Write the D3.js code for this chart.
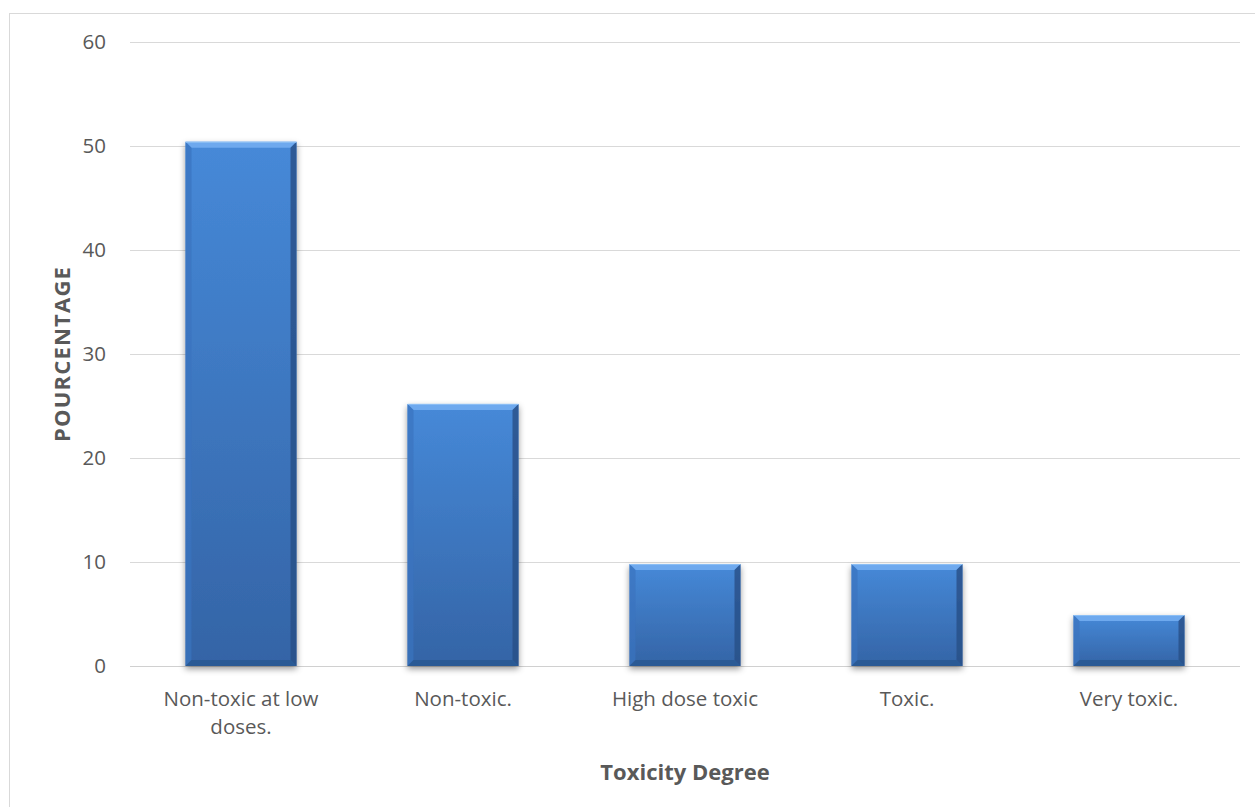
<!DOCTYPE html>
<html>
<head>
<meta charset="utf-8">
<script src="https://cdn.jsdelivr.net/npm/d3@7"></script>
<style>
  html, body { margin: 0; padding: 0; background: #fff; }
  svg { display: block; }
  text { font-family: "Open Sans", "Liberation Sans", sans-serif; }
</style>
</head>
<body>
<svg id="chart" width="1255" height="807"></svg>
<script>
// Share of compounds per toxicity class (%)
const categories = ["Non-toxic at low doses.", "Non-toxic.", "High dose toxic", "Toxic.", "Very toxic."];
const categoryLines = [["Non-toxic at low", "doses."], ["Non-toxic."], ["High dose toxic"], ["Toxic."], ["Very toxic."]];
const percentages = [50.4, 25.2, 9.8, 9.8, 4.9];
const yTicks = [0, 10, 20, 30, 40, 50, 60];
const xTitle = "Toxicity Degree";
const yTitle = "POURCENTAGE";

const svg = d3.select("#chart");
const W = 1255, H = 807;
const margin = { left: 130, right: 15, top: 42, bottom: 141 };
const plotW = W - margin.left - margin.right;
const plotH = H - margin.top - margin.bottom;
const labelSize = 20.5;
const titleSize = 22;

// chart frame
svg.append("rect")
  .attr("x", 9.5).attr("y", 13.5)
  .attr("width", W).attr("height", H)
  .attr("fill", "#fff").attr("stroke", "#d9d9d9").attr("stroke-width", 1);

const x = d3.scaleBand().domain(categories).range([0, plotW]).paddingInner(0.5).paddingOuter(0.25);
const y = d3.scaleLinear().domain([0, 60]).range([plotH, 0]);

const defs = svg.append("defs");
const grad = defs.append("linearGradient").attr("id", "barGrad")
  .attr("x1", 0).attr("y1", 0).attr("x2", 0).attr("y2", 1);
grad.append("stop").attr("offset", "0%").attr("stop-color", "#4689d8");
grad.append("stop").attr("offset", "100%").attr("stop-color", "#3464a6");

const shadow = defs.append("filter").attr("id", "barShadow")
  .attr("x", "-10%").attr("y", "-10%").attr("width", "130%").attr("height", "130%");
shadow.append("feDropShadow").attr("dx", 0).attr("dy", 3).attr("stdDeviation", 3)
  .attr("flood-color", "#000").attr("flood-opacity", 0.4);

const g = svg.append("g").attr("transform", `translate(${margin.left},${margin.top})`);

// gridlines and y labels
const yAxis = d3.axisLeft(y).tickValues(yTicks).tickSize(-plotW).tickPadding(24).tickFormat(d3.format("d"));
const ya = g.append("g").call(yAxis);
ya.attr("font-size", null).attr("font-family", null);
ya.select(".domain").remove();
ya.selectAll(".tick line").attr("stroke", "#d9d9d9").attr("stroke-width", 1);
ya.selectAll(".tick text").attr("fill", "#595959").attr("font-size", labelSize);

// baseline
g.append("line").attr("x1", 0).attr("x2", plotW).attr("y1", y(0) + 0.5).attr("y2", y(0) + 0.5)
  .attr("stroke", "#d0d0d0").attr("stroke-width", 1);

// bevelled bars
const bev = 6;
const bars = g.selectAll(".bar").data(categories).enter().append("g").attr("class", "bar")
  .attr("filter", "url(#barShadow)");

bars.each(function(c, i) {
  const sel = d3.select(this);
  const x0 = x(c), w = x.bandwidth();
  const y0 = y(percentages[i]), h = y(0) - y0;
  const x1 = x0 + w, y1 = y0 + h;
  sel.append("rect").attr("x", x0).attr("y", y0).attr("width", w).attr("height", h).attr("fill", "url(#barGrad)");
  // top facet
  sel.append("path").attr("d", `M${x0},${y0}L${x1},${y0}L${x1 - bev},${y0 + bev}L${x0 + bev},${y0 + bev}Z`)
    .attr("fill", "#6ea9ee");
  // left facet
  sel.append("path").attr("d", `M${x0},${y0}L${x0 + bev},${y0 + bev}L${x0 + bev},${y1 - bev}L${x0},${y1}Z`)
    .attr("fill", "#3a74bf").attr("opacity", 0.7);
  // right facet
  sel.append("path").attr("d", `M${x1},${y0}L${x1 - bev},${y0 + bev}L${x1 - bev},${y1 - bev}L${x1},${y1}Z`)
    .attr("fill", "#284f86").attr("opacity", 0.8);
  // bottom facet
  sel.append("path").attr("d", `M${x0},${y1}L${x1},${y1}L${x1 - bev},${y1 - bev}L${x0 + bev},${y1 - bev}Z`)
    .attr("fill", "#2c5a95");
  // top edge highlight
  sel.append("line").attr("x1", x0).attr("x2", x1).attr("y1", y0 + 0.5).attr("y2", y0 + 0.5)
    .attr("stroke", "#8ec0f5").attr("stroke-width", 1);
});

// category labels
const xl = g.append("g").attr("transform", `translate(0,${plotH})`);
categories.forEach((c, i) => {
  const t = xl.append("text")
    .attr("x", x(c) + x.bandwidth() / 2)
    .attr("text-anchor", "middle").attr("fill", "#595959").attr("font-size", labelSize);
  categoryLines[i].forEach((ln, k) =>
    t.append("tspan").attr("x", x(c) + x.bandwidth() / 2).attr("y", 40 + k * 28).text(ln));
});

// axis titles
svg.append("text").attr("x", margin.left + plotW / 2).attr("y", 780)
  .attr("text-anchor", "middle").attr("fill", "#595959")
  .attr("font-size", titleSize).attr("font-weight", "bold").text(xTitle);

svg.append("text").attr("transform", `translate(70,${margin.top + plotH / 2}) rotate(-90)`)
  .attr("text-anchor", "middle").attr("fill", "#595959")
  .attr("font-size", titleSize).attr("font-weight", "bold")
  .attr("letter-spacing", 1.2).text(yTitle);
</script>
</body>
</html>
